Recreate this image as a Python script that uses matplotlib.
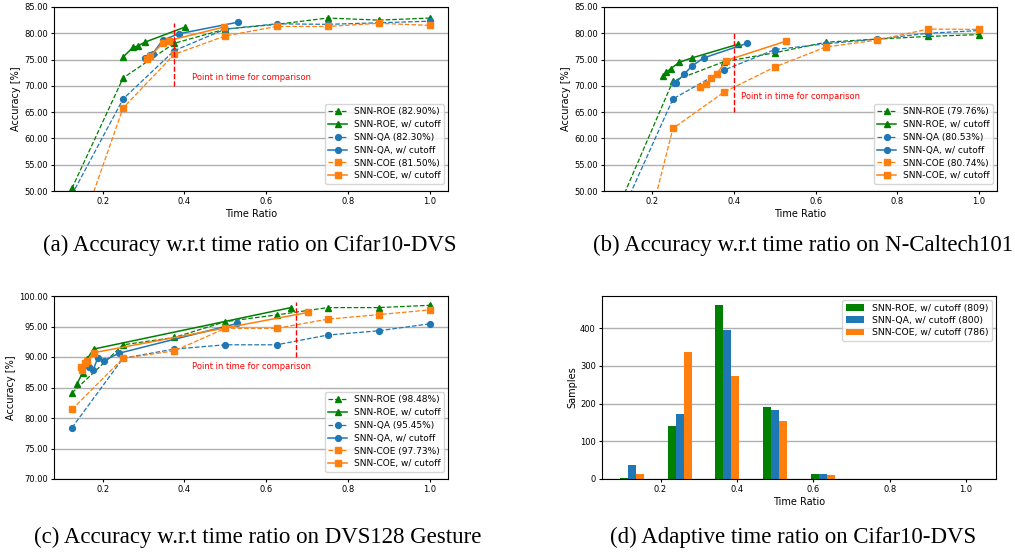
import matplotlib
matplotlib.use("Agg")
import matplotlib.pyplot as plt
from matplotlib.ticker import FormatStrFormatter

# ---------------- data ----------------
T = [0.125, 0.25, 0.375, 0.5, 0.625, 0.75, 0.875, 1.0]

# (a) Cifar10-DVS
a_roe = [50.5, 71.5, 78.1, 80.8, 81.7, 82.9, 82.5, 82.9]
a_roe_cut_x = [0.25, 0.274, 0.286, 0.303, 0.402]
a_roe_cut_y = [75.5, 77.3, 77.6, 78.3, 81.2]
a_qa = [49.3, 67.5, 76.7, 80.8, 81.8, 81.7, 82.0, 82.3]
a_qa_cut_x = [0.303, 0.316, 0.322, 0.347, 0.386, 0.530]
a_qa_cut_y = [75.3, 75.8, 76.1, 78.7, 79.9, 82.1]
a_coe = [38.0, 65.8, 76.0, 79.5, 81.3, 81.3, 81.9, 81.5]
a_coe_cut_x = [0.308, 0.315, 0.347, 0.361, 0.497]
a_coe_cut_y = [75.1, 75.6, 78.1, 78.6, 81.2]

# (b) N-Caltech101
b_roe = [48.4, 70.9, 74.6, 76.3, 78.3, 78.9, 79.4, 79.76]
b_roe_cut_x = [0.225, 0.234, 0.245, 0.266, 0.296, 0.409]
b_roe_cut_y = [71.8, 72.55, 73.3, 74.5, 75.3, 77.9]
b_qa = [45.9, 67.5, 73.0, 76.9, 78.0, 78.9, 80.0, 80.53]
b_qa_cut_x = [0.252, 0.257, 0.277, 0.297, 0.325, 0.432]
b_qa_cut_y = [70.5, 70.6, 72.2, 73.8, 75.3, 78.1]
b_coe = [23.5, 61.9, 68.8, 73.6, 77.4, 78.7, 80.8, 80.74]
b_coe_cut_x = [0.316, 0.331, 0.343, 0.358, 0.380, 0.527]
b_coe_cut_y = [69.7, 70.3, 71.5, 72.3, 74.8, 78.5]

# (c) DVS128 Gesture
c_roe = [84.1, 92.0, 93.2, 95.8, 96.9, 98.1, 98.1, 98.48]
c_roe_cut_x = [0.1375, 0.151, 0.1625, 0.178, 0.66]
c_roe_cut_y = [85.6, 87.4, 89.7, 91.3, 98.1]
c_qa = [78.4, 89.8, 91.3, 92.0, 92.0, 93.6, 94.3, 95.45]
c_qa_cut_x = [0.167, 0.177, 0.188, 0.204, 0.239, 0.529]
c_qa_cut_y = [88.3, 87.9, 89.8, 89.4, 90.6, 95.5]
c_coe = [81.4, 89.8, 91.0, 94.7, 94.7, 96.2, 96.95, 97.73]
c_coe_cut_x = [0.146, 0.150, 0.157, 0.162, 0.178, 0.701]
c_coe_cut_y = [88.3, 87.8, 89.0, 89.4, 90.7, 97.3]

# (d) adaptive time ratio histogram
d_roe = [3, 140, 462, 192, 12, 0, 0, 0]
d_qa = [38, 173, 394, 183, 12, 0, 0, 0]
d_coe = [12, 336, 273, 154, 11, 0, 0, 0]

labels_a = ["SNN-ROE (82.90%)", "SNN-ROE, w/ cutoff", "SNN-QA (82.30%)",
            "SNN-QA, w/ cutoff", "SNN-COE (81.50%)", "SNN-COE, w/ cutoff"]
labels_b = ["SNN-ROE (79.76%)", "SNN-ROE, w/ cutoff", "SNN-QA (80.53%)",
            "SNN-QA, w/ cutoff", "SNN-COE (80.74%)", "SNN-COE, w/ cutoff"]
labels_c = ["SNN-ROE (98.48%)", "SNN-ROE, w/ cutoff", "SNN-QA (95.45%)",
            "SNN-QA, w/ cutoff", "SNN-COE (97.73%)", "SNN-COE, w/ cutoff"]
labels_d = ["SNN-ROE, w/ cutoff (809)", "SNN-QA, w/ cutoff (800)",
            "SNN-COE, w/ cutoff (786)"]
captions = ["(a) Accuracy w.r.t time ratio on Cifar10-DVS",
            "(b) Accuracy w.r.t time ratio on N-Caltech101",
            "(c) Accuracy w.r.t time ratio on DVS128 Gesture",
            "(d) Adaptive time ratio on Cifar10-DVS"]
comp_text = "Point in time for comparison"

# ---------------- style ----------------
plt.rcParams.update({
    "font.family": "DejaVu Sans",
    "font.size": 6,
    "xtick.labelsize": 6,
    "ytick.labelsize": 6,
    "axes.labelsize": 7,
    "xtick.major.size": 2.5,
    "ytick.major.size": 2.5,
    "xtick.major.pad": 2,
    "ytick.major.pad": 2,
    "axes.linewidth": 0.8,
    "axes.labelpad": 2,
})

G, B, O = "#008000", "#1f77b4", "#ff7f0e"

fig = plt.figure(figsize=(10.15, 5.52), dpi=100)

W, H = 1015.0, 552.0
def pos(l, t, r, b):
    return [l / W, 1 - b / H, (r - l) / W, (b - t) / H]

ax_a = fig.add_axes(pos(54, 7, 448, 191))
ax_b = fig.add_axes(pos(604, 7, 997, 191))
ax_c = fig.add_axes(pos(54, 296, 448, 479))
ax_d = fig.add_axes(pos(602, 296, 996, 479))

MS = 4.2

def acc_plot(ax, roe, roe_cx, roe_cy, qa, qa_cx, qa_cy, coe, coe_cx, coe_cy,
             labels, ylim, yticks, vx, vy0, vy1, ty, xlabel=True):
    ax.plot(T, roe, "--", color=G, marker="^", ms=MS, lw=0.9, label=labels[0])
    ax.plot(roe_cx, roe_cy, "-", color=G, marker="^", ms=MS, lw=1.1, label=labels[1])
    ax.plot(T, qa, "--", color=B, marker="o", ms=MS, lw=0.9, label=labels[2])
    ax.plot(qa_cx, qa_cy, "-", color=B, marker="o", ms=MS, lw=1.1, label=labels[3])
    ax.plot(T, coe, "--", color=O, marker="s", ms=MS, lw=0.9, label=labels[4])
    ax.plot(coe_cx, coe_cy, "-", color=O, marker="s", ms=MS, lw=1.1, label=labels[5])
    ax.set_xlim(0.08125, 1.04375)
    ax.set_ylim(*ylim)
    ax.set_yticks(yticks)
    ax.set_xticks([0.2, 0.4, 0.6, 0.8, 1.0])
    ax.yaxis.set_major_formatter(FormatStrFormatter("%.2f"))
    ax.yaxis.grid(True, color="#b0b0b0", lw=1.0)
    ax.set_axisbelow(True)
    ax.plot([vx, vx], [vy0, vy1], "--", color="red", lw=1.0)
    ax.text(0.418, ty, comp_text, color="red", fontsize=6.0, ha="left", va="center")
    ax.set_ylabel("Accuracy [%]")
    if xlabel:
        ax.set_xlabel("Time Ratio")
    ax.legend(loc="lower right", fontsize=6.5, labelspacing=0.42,
              handlelength=2.0, borderaxespad=0.0,
              bbox_to_anchor=(1 - 4 / 394.0, 7 / 184.0))

acc_plot(ax_a, a_roe, a_roe_cut_x, a_roe_cut_y, a_qa, a_qa_cut_x, a_qa_cut_y,
         a_coe, a_coe_cut_x, a_coe_cut_y, labels_a, (50, 85),
         [50, 55, 60, 65, 70, 75, 80, 85], 0.375, 70, 82, 71.5)
acc_plot(ax_b, b_roe, b_roe_cut_x, b_roe_cut_y, b_qa, b_qa_cut_x, b_qa_cut_y,
         b_coe, b_coe_cut_x, b_coe_cut_y, labels_b, (50, 85),
         [50, 55, 60, 65, 70, 75, 80, 85], 0.4, 65, 80, 68.0)
acc_plot(ax_c, c_roe, c_roe_cut_x, c_roe_cut_y, c_qa, c_qa_cut_x, c_qa_cut_y,
         c_coe, c_coe_cut_x, c_coe_cut_y, labels_c, (70, 100),
         [70, 75, 80, 85, 90, 95, 100], 0.673, 90, 99, 88.4, xlabel=False)

# (d) bars
w = 0.125 / 6
ax_d.bar([t - w for t in T], d_roe, width=w, color=G, label=labels_d[0])
ax_d.bar(T, d_qa, width=w, color=B, label=labels_d[1])
ax_d.bar([t + w for t in T], d_coe, width=w, color=O, label=labels_d[2])
ax_d.set_xticks([0.2, 0.4, 0.6, 0.8, 1.0])
ax_d.set_yticks([0, 100, 200, 300, 400])
ax_d.yaxis.grid(True, color="#b0b0b0", lw=1.0)
ax_d.set_axisbelow(True)
ax_d.set_xlabel("Time Ratio")
ax_d.set_ylabel("Samples")
ax_d.legend(loc="upper right", fontsize=6.7, labelspacing=0.35, borderaxespad=0.0,
            bbox_to_anchor=(1 - 4 / 394.0, 1 - 4 / 183.0))

# captions
cap_kw = dict(fontsize=16.5, family=["Liberation Serif", "DejaVu Serif"],
              ha="center", va="center")
fig.text(250 / W, 1 - 245 / H, captions[0], **cap_kw)
fig.text(803 / W, 1 - 245 / H, captions[1], **cap_kw)
fig.text(258 / W, 1 - 537 / H, captions[2], **cap_kw)
fig.text(793 / W, 1 - 537 / H, captions[3], **cap_kw)

fig.savefig("out.png", dpi=100)
